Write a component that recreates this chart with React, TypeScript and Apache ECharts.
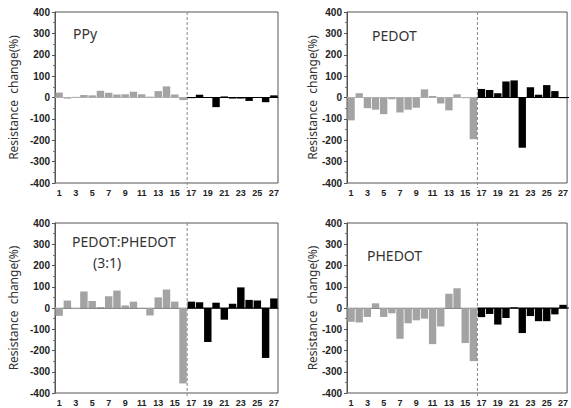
import React, { useEffect, useRef } from "react";
import * as echarts from "echarts";

const categories = ["1","2","3","4","5","6","7","8","9","10","11","12","13","14","15","16","17","18","19","20","21","22","23","24","25","26","27"];

const ppy = [23, -5, 3, 12, 10, 32, 22, 14, 15, 27, 15, 4, 30, 52, 14, -12, -3, 13, 2, -45, 5, -5, -5, -16, 0, -22, 10];
const pedot = [-107, 20, -50, -57, -78, -8, -70, -57, -48, 38, 7, -28, -60, 15, -3, -195, 40, 35, 20, 75, 80, -235, 48, 13, 58, 30, -3];
const pedotPhedot = [-37, 35, -5, 78, 33, 5, 55, 82, 12, 30, -2, -35, 50, 87, 30, -355, 30, 27, -160, 25, -55, 20, 97, 38, 35, -235, 45];
const phedot = [-65, -68, -42, 22, -42, -25, -145, -72, -58, -50, -170, -87, 67, 93, -165, -250, -43, -28, -78, -47, 3, -118, -38, -62, -62, -30, 15];

const panelData = [ppy, pedot, pedotPhedot, phedot];
const yName = "Resistance  change(%)";
const splitCount = 16; // first 16 samples gray, rest black
const grayColor = "#a3a3a3";
const blackColor = "#000000";

const grids = [
  { left: 55, top: 12, width: 223, height: 171 },
  { left: 347, top: 12, width: 222, height: 171 },
  { left: 55, top: 223, width: 223, height: 170 },
  { left: 347, top: 223, width: 222, height: 170 },
];
const nameGaps = [36, 29, 36, 29];
const titleFont = "'Noto Sans', sans-serif";

export default function App() {
  const ref = useRef<HTMLDivElement>(null);
  useEffect(() => {
    if (!ref.current) return;
    const chart = echarts.init(ref.current, undefined, { renderer: "svg" });
    const font = "'Liberation Sans', Arial, sans-serif";
    const titles: any[] = [
      { type: "text", left: 73, top: 26, style: { text: "PPy", fontSize: 14, fill: "#333", fontFamily: titleFont } },
      { type: "text", left: 372, top: 28, style: { text: "PEDOT", fontSize: 14, fill: "#333", fontFamily: titleFont } },
      { type: "text", left: 72, top: 234, style: { text: "PEDOT:PHEDOT", fontSize: 14, fill: "#333", fontFamily: titleFont } },
      { type: "text", left: 93, top: 255, style: { text: "(3:1)", fontSize: 14, fill: "#333", fontFamily: titleFont } },
      { type: "text", left: 367, top: 248, style: { text: "PHEDOT", fontSize: 14, fill: "#333", fontFamily: titleFont } },
    ];
    const option: any = {
      animation: false,
      backgroundColor: "#ffffff",
      grid: grids.map((g) => ({ ...g, show: true, borderColor: "#555", borderWidth: 1, containLabel: false })),
      xAxis: grids.map((_, i) => ({
        type: "category",
        gridIndex: i,
        data: categories,
        axisLine: { lineStyle: { color: "#555" } },
        axisTick: { show: false },
        axisLabel: { interval: 1, fontSize: 9, fontWeight: "bold", color: "#222", fontFamily: font, margin: 5 },
        splitLine: { show: false },
      })),
      yAxis: grids.map((_, i) => ({
        type: "value",
        gridIndex: i,
        min: -400,
        max: 400,
        interval: 100,
        name: yName,
        nameLocation: "middle",
        nameGap: nameGaps[i],
        nameTextStyle: { fontSize: 12, color: "#333", fontFamily: titleFont },
        axisLine: { show: true, lineStyle: { color: "#555" } },
        axisTick: { show: true, length: 3, lineStyle: { color: "#555" } },
        minorTick: { show: true, splitNumber: 2, length: 2, lineStyle: { color: "#777" } },
        axisLabel: { fontSize: 10, fontWeight: "bold", color: "#222", fontFamily: font, margin: 5 },
        splitLine: { show: false },
      })),
      series: panelData.map((vals, i) => ({
        type: "bar",
        xAxisIndex: i,
        yAxisIndex: i,
        barCategoryGap: "10%",
        data: vals.map((v, k) => ({
          value: v,
          itemStyle: { color: k < splitCount ? grayColor : blackColor },
        })),
      })),
      graphic: titles,
    };
    chart.setOption(option);

    // separator (dashed) between sample 16 and 17 and zero lines
    const extra: any[] = [];
    grids.forEach((g, i) => {
      const p16 = chart.convertToPixel({ xAxisIndex: i, yAxisIndex: i } as any, [categories[splitCount - 1], 0]) as number[];
      const p17 = chart.convertToPixel({ xAxisIndex: i, yAxisIndex: i } as any, [categories[splitCount], 0]) as number[];
      const pTop = chart.convertToPixel({ xAxisIndex: i, yAxisIndex: i } as any, [categories[0], 400]) as number[];
      const pBot = chart.convertToPixel({ xAxisIndex: i, yAxisIndex: i } as any, [categories[0], -400]) as number[];
      const xs = (p16[0] + p17[0]) / 2;
      extra.push({
        type: "line",
        shape: { x1: g.left, y1: p16[1], x2: xs, y2: p16[1] },
        style: { stroke: "#bbb", lineWidth: 1 },
        z: 1,
      });
      extra.push({
        type: "line",
        shape: { x1: xs, y1: pTop[1], x2: xs, y2: pBot[1] + 5 },
        style: { stroke: "#888", lineWidth: 1, lineDash: [3, 2] },
        z: 10,
      });
      extra.push({
        type: "line",
        shape: { x1: xs, y1: p16[1], x2: g.left + g.width, y2: p16[1] },
        style: { stroke: "#000", lineWidth: 1 },
        z: 10,
      });
    });
    chart.setOption({ graphic: [...titles, ...extra] });
    return () => chart.dispose();
  }, []);
  return (
    <div
      ref={ref}
      style={{ position: "fixed", left: 0, top: 0, width: 571, height: 408, background: "#fff" }}
    />
  );
}
